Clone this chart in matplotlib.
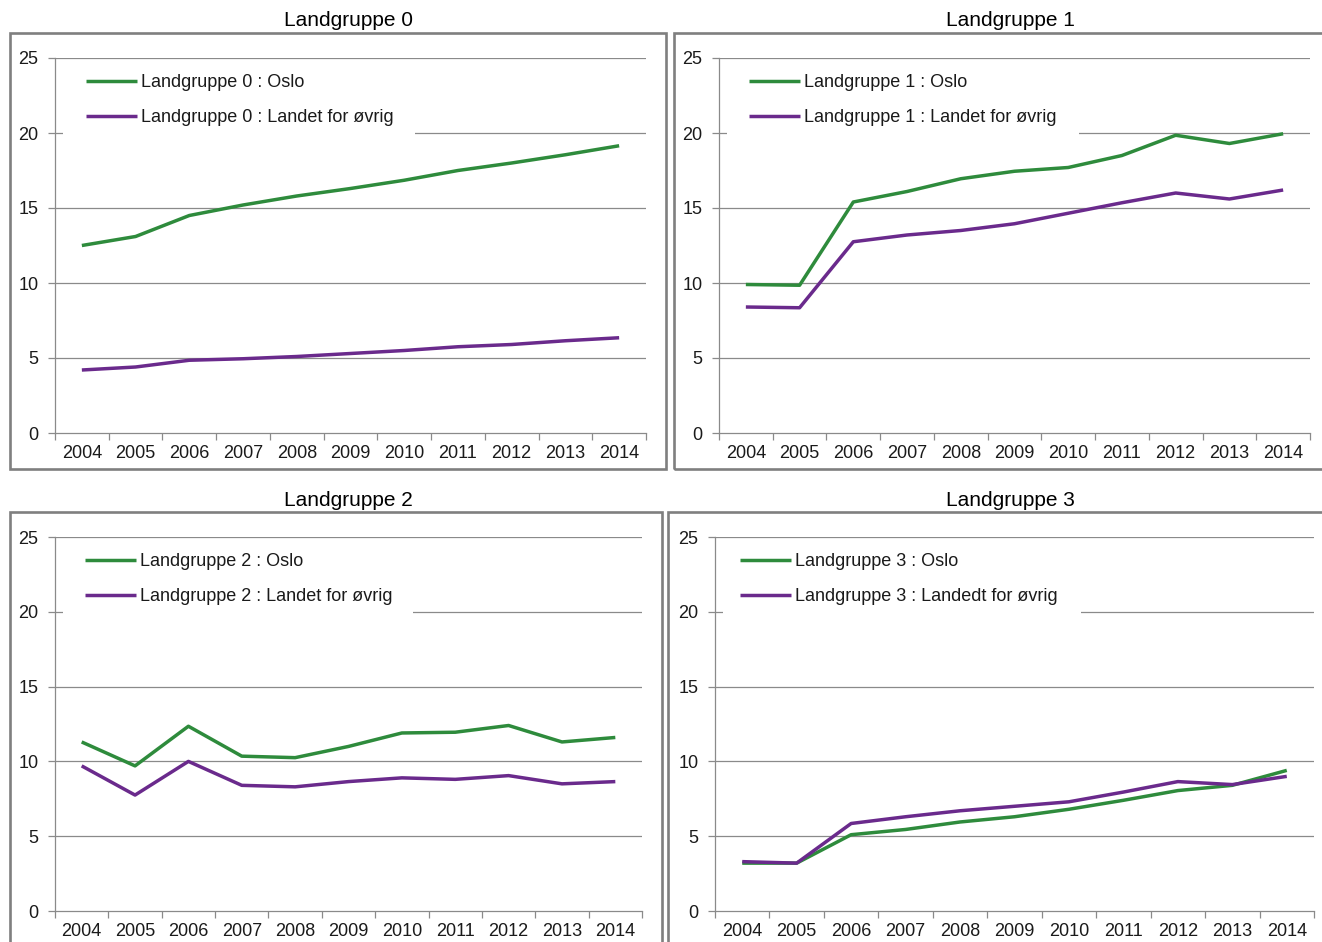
import matplotlib
matplotlib.use("Agg")
import matplotlib.pyplot as plt
from matplotlib.patches import Rectangle

plt.rcParams['font.family'] = ['Liberation Sans', 'DejaVu Sans']

years = ['2004', '2005', '2006', '2007', '2008', '2009', '2010', '2011', '2012', '2013', '2014']
titles = ['Landgruppe 0', 'Landgruppe 1', 'Landgruppe 2', 'Landgruppe 3']

oslo_0 = [12.5, 13.1, 14.5, 15.2, 15.8, 16.3, 16.85, 17.5, 18.0, 18.55, 19.15]
rest_0 = [4.2, 4.4, 4.85, 4.95, 5.1, 5.3, 5.5, 5.75, 5.9, 6.15, 6.35]
oslo_1 = [9.9, 9.85, 15.4, 16.1, 16.95, 17.45, 17.7, 18.5, 19.85, 19.3, 19.95]
rest_1 = [8.4, 8.35, 12.75, 13.2, 13.5, 13.95, 14.65, 15.35, 16.0, 15.6, 16.2]
oslo_2 = [11.3, 9.7, 12.35, 10.35, 10.25, 11.0, 11.9, 11.95, 12.4, 11.3, 11.6]
rest_2 = [9.7, 7.75, 10.0, 8.4, 8.3, 8.65, 8.9, 8.8, 9.05, 8.5, 8.65]
oslo_3 = [3.2, 3.2, 5.1, 5.45, 5.95, 6.3, 6.8, 7.4, 8.05, 8.4, 9.4]
rest_3 = [3.3, 3.2, 5.85, 6.3, 6.7, 7.0, 7.3, 7.95, 8.65, 8.45, 9.0]

labels_oslo = ['Landgruppe 0 : Oslo', 'Landgruppe 1 : Oslo', 'Landgruppe 2 : Oslo', 'Landgruppe 3 : Oslo']
labels_rest = ['Landgruppe 0 : Landet for øvrig', 'Landgruppe 1 : Landet for øvrig',
               'Landgruppe 2 : Landet for øvrig', 'Landgruppe 3 : Landedt for øvrig']
oslo_all = [oslo_0, oslo_1, oslo_2, oslo_3]
rest_all = [rest_0, rest_1, rest_2, rest_3]

yticks = [0, 5, 10, 15, 20, 25]

GREEN = '#2e8b3c'
PURPLE = '#6a2a8c'
GRID = '#8a8a8a'
FRAME = '#7f7f7f'
TXT = '#1a1a1a'

W, H = 1322, 942
fig = plt.figure(figsize=(W / 100, H / 100), dpi=100)

# pixel layouts: axes (left, top, right, bottom), frame (left, top, right, bottom), title (x, y)
layouts = [
    dict(ax=(55, 58, 646, 433), frame=(10, 33, 666, 469), title=(348, 21), hx=31, box_r=415),
    dict(ax=(719, 58, 1310, 433), frame=(674, 33, 1335, 469), title=(1010, 21), hx=30, box_r=1079),
    dict(ax=(55, 537, 642, 911), frame=(10, 512, 662, 960), title=(348, 500), hx=30, box_r=413),
    dict(ax=(715, 537, 1314, 911), frame=(668, 512, 1335, 960), title=(1010, 500), hx=25, box_r=1081),
]


def fx(x):
    return x / W


def fy(y):
    return 1 - y / H


for i, lay in enumerate(layouts):
    fl, ft, fr, fb = lay['frame']
    fig.patches.append(Rectangle((fx(fl), fy(fb)), fx(fr - fl), (fb - ft) / H,
                                 transform=fig.transFigure, fill=False,
                                 edgecolor=FRAME, linewidth=1.9, zorder=0))
    fig.text(fx(lay['title'][0]), fy(lay['title'][1]), titles[i], ha='center', va='center',
             fontsize=15, color='#000000')

    l, t, r, b = lay['ax']
    ax = fig.add_axes([fx(l), fy(b), fx(r - l), (b - t) / H])
    ax.set_facecolor('none')
    x = list(range(len(years)))
    ax.plot(x, oslo_all[i], color=GREEN, linewidth=2.5, label=labels_oslo[i], zorder=4,
            solid_joinstyle='round', solid_capstyle='butt')
    ax.plot(x, rest_all[i], color=PURPLE, linewidth=2.5, label=labels_rest[i], zorder=4,
            solid_joinstyle='round', solid_capstyle='butt')
    ax.set_xlim(-0.5, len(years) - 0.5)
    ax.set_ylim(0, 25)
    ax.set_yticks(yticks)
    ax.set_yticklabels([str(v) for v in yticks])
    for v in yticks[1:]:
        ax.axhline(v, color=GRID, linewidth=0.9, zorder=1 if v != 25 else 6)
    # x ticks at category boundaries, labels at centres
    ax.set_xticks([k - 0.5 for k in range(len(years) + 1)])
    ax.set_xticklabels([])
    ax.set_xticks(x, minor=True)
    ax.set_xticklabels(years, minor=True)
    ax.tick_params(axis='x', which='major', length=5, width=0.9, color=GRID, direction='out')
    ax.tick_params(axis='x', which='minor', length=0, pad=9, labelsize=13, labelcolor=TXT)
    ax.tick_params(axis='y', length=5, width=0.9, color=GRID, direction='out', pad=7,
                   labelsize=13, labelcolor=TXT)
    for s in ['top', 'right']:
        ax.spines[s].set_visible(False)
    for s in ['left', 'bottom']:
        ax.spines[s].set_color(GRID)
        ax.spines[s].set_linewidth(0.9)
        ax.spines[s].set_zorder(6)

    # white legend background
    box_l = l + 8
    box_r = lay['box_r']
    ax.add_patch(Rectangle(((box_l - l) / (r - l), (b - t - 90) / (b - t)),
                           (box_r - box_l) / (r - l), 85 / (b - t),
                           transform=ax.transAxes, facecolor='white', edgecolor='none', zorder=3))
    leg = ax.legend(loc='upper left', bbox_to_anchor=(lay['hx'] / (r - l), 1 - 16 / (b - t)),
                    frameon=False, borderpad=0, borderaxespad=0, handlelength=2.82,
                    handletextpad=0.22, labelspacing=1.02, fontsize=13)
    for txt in leg.get_texts():
        txt.set_color(TXT)
    leg.set_zorder(7)

fig.savefig('out.png', dpi=100)
